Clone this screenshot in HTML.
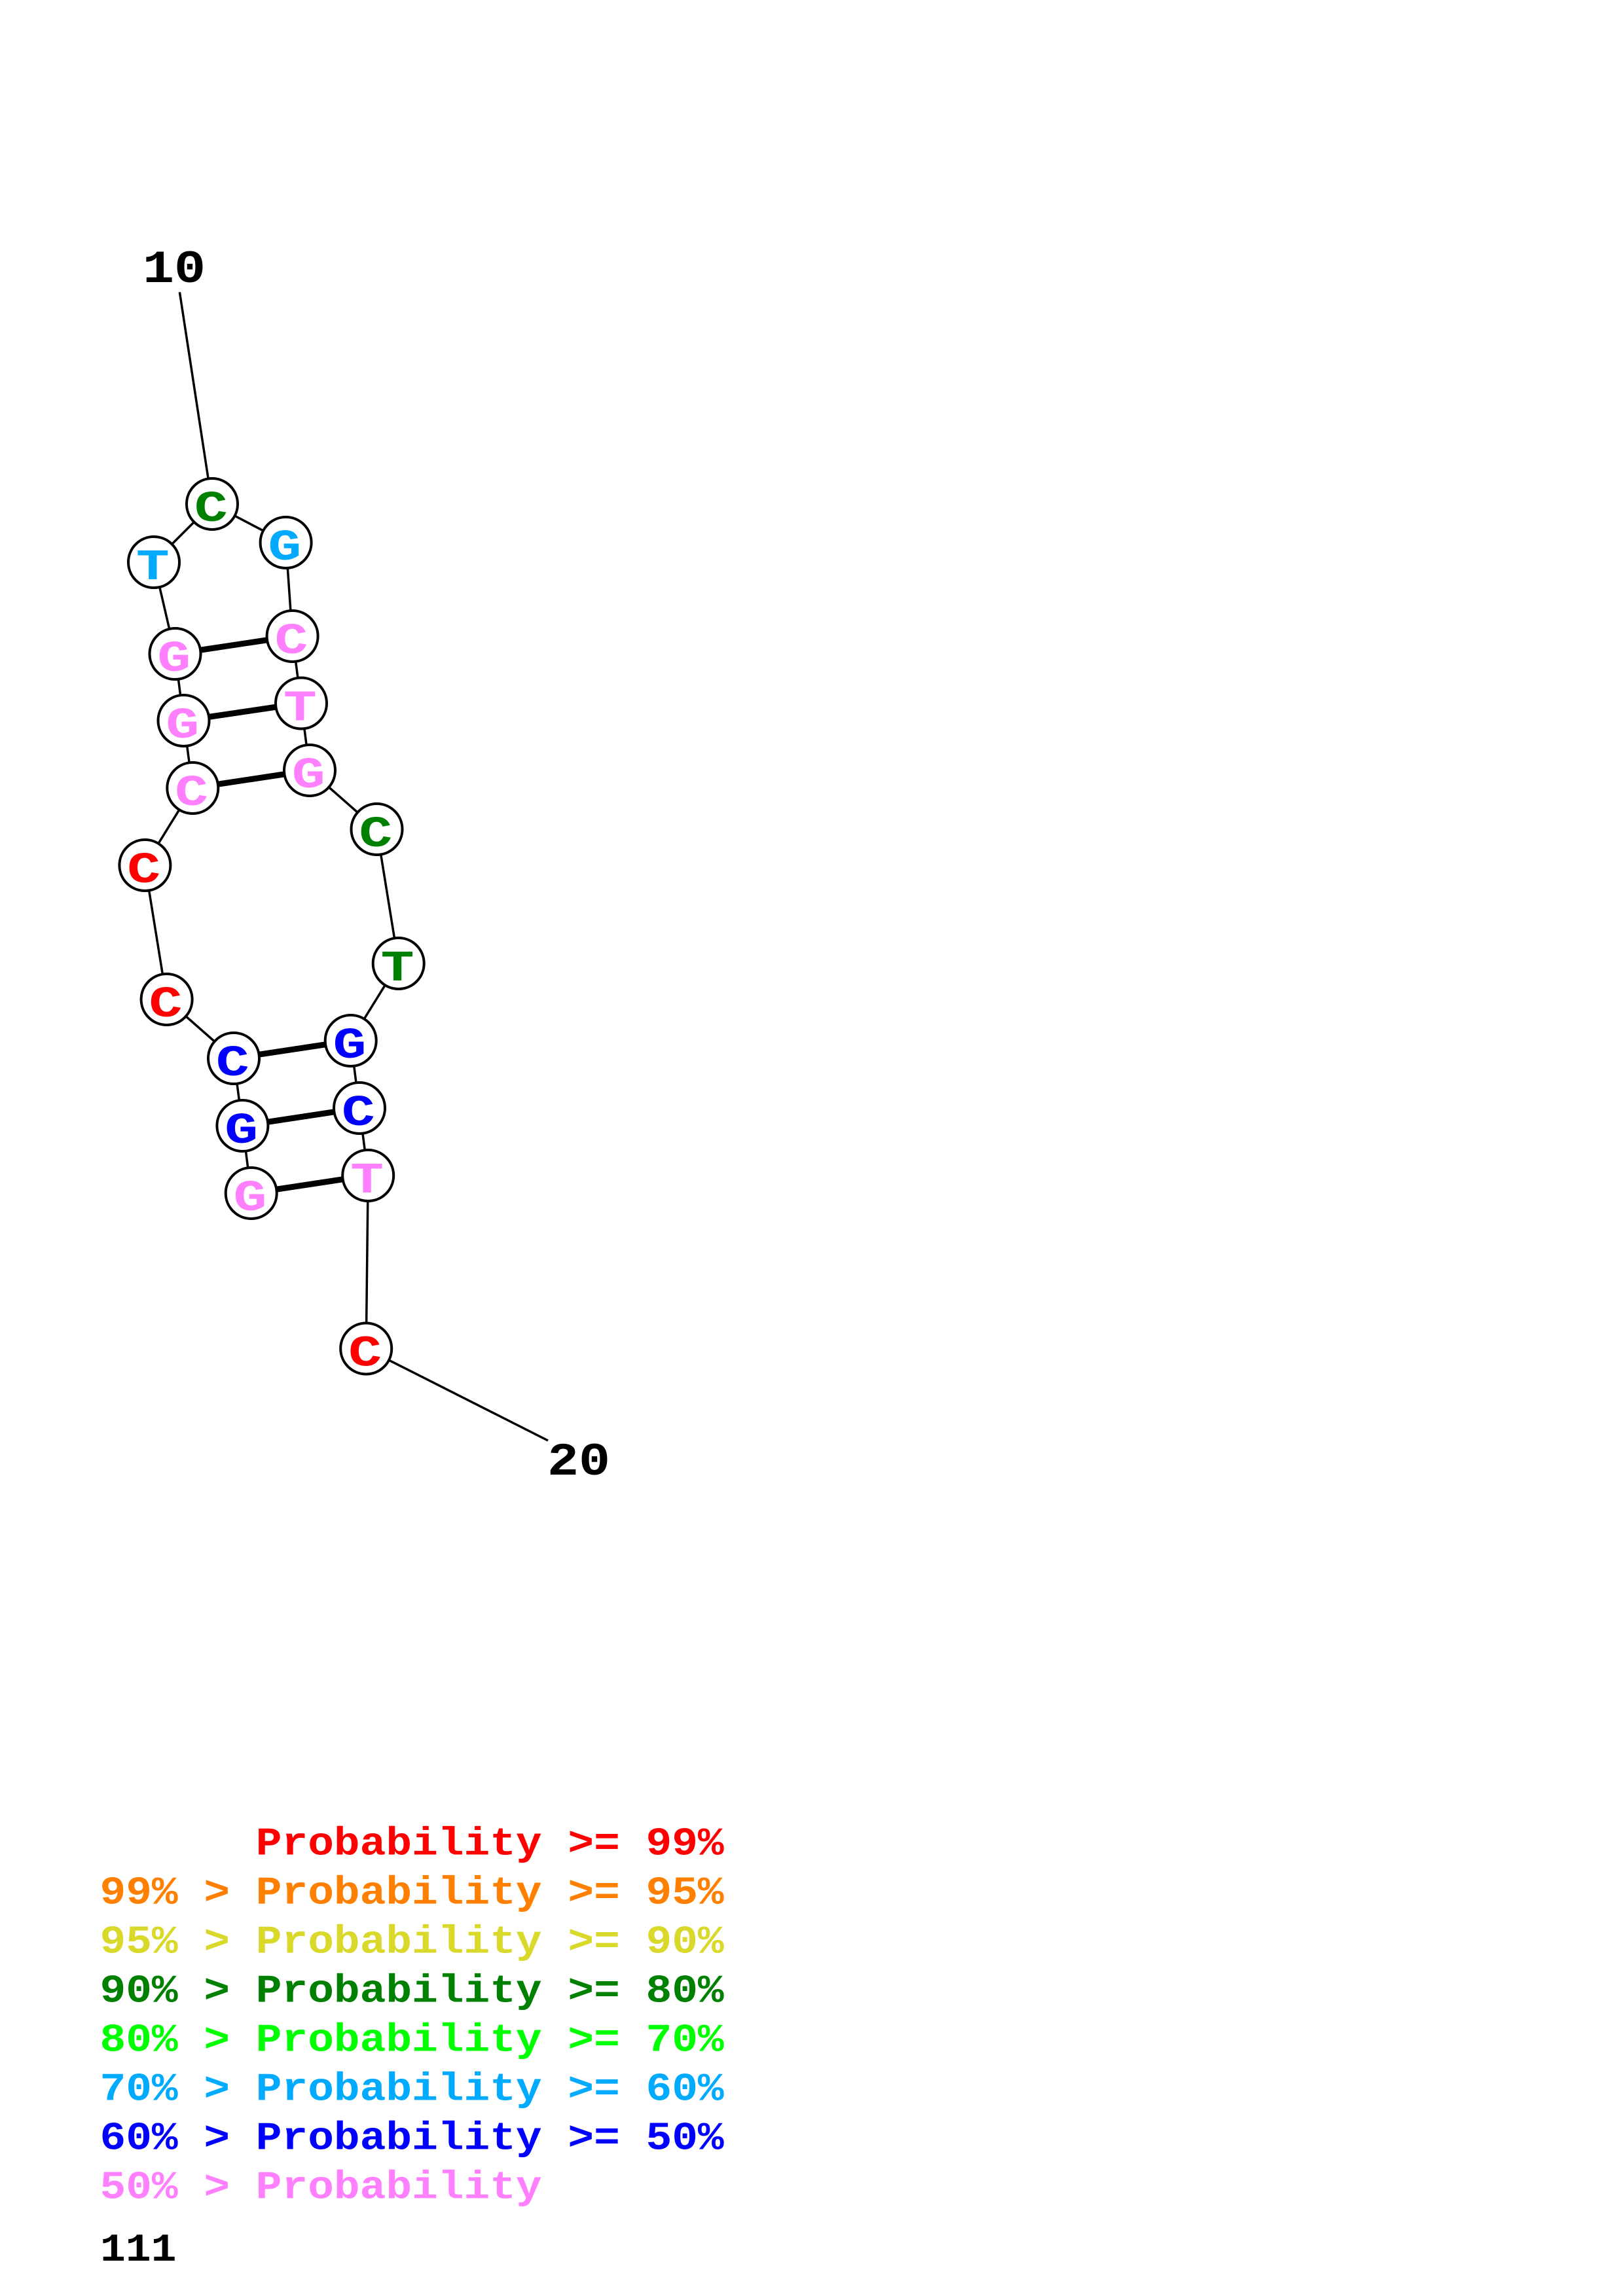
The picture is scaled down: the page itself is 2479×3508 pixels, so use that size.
<!DOCTYPE html>
<html><head><meta charset="utf-8">
<style>
html,body{margin:0;padding:0;background:#fff}
svg{display:block}
text{font-family:"Liberation Mono",monospace;font-weight:bold;white-space:pre}
.n{font-size:80px;text-anchor:middle}
.l{font-size:66px}
</style></head><body>
<svg xmlns="http://www.w3.org/2000/svg" width="2479" height="3508" viewBox="0 0 2479 3508">
<rect width="2479" height="3508" fill="#fff"/>
<g stroke="#000" stroke-width="3.5" fill="none">
<path d="M274.4 446.4L324 770L235 859L267.5 999L280.5 1101L294.3 1204L221.4 1322L254.6 1527L357 1617L370.4 1720L383.7 1823"/>
<path d="M324 770L436.6 829L446.6 972L460 1074.5L473 1177L575.5 1267L608.7 1472L535.7 1590L549 1693L562.2 1796L559.2 2060.5L837 2201"/>
</g>
<g stroke="#000" stroke-width="9">
<line x1="267.5" y1="999" x2="446.6" y2="972"/>
<line x1="280.5" y1="1101" x2="460" y2="1074.5"/>
<line x1="294.3" y1="1204" x2="473" y2="1177"/>
<line x1="357" y1="1617" x2="535.7" y2="1590"/>
<line x1="370.4" y1="1720" x2="549" y2="1693"/>
<line x1="383.7" y1="1823" x2="562.2" y2="1796"/>
</g>
<g fill="#fff" stroke="#000" stroke-width="4">
<circle cx="324" cy="770" r="39"/><circle cx="235" cy="859" r="39"/><circle cx="436.6" cy="829" r="39"/>
<circle cx="267.5" cy="999" r="39"/><circle cx="446.6" cy="972" r="39"/><circle cx="280.5" cy="1101" r="39"/>
<circle cx="460" cy="1074.5" r="39"/><circle cx="294.3" cy="1204" r="39"/><circle cx="473" cy="1177" r="39"/>
<circle cx="221.4" cy="1322" r="39"/><circle cx="575.5" cy="1267" r="39"/><circle cx="608.7" cy="1472" r="39"/>
<circle cx="254.6" cy="1527" r="39"/><circle cx="535.7" cy="1590" r="39"/><circle cx="357" cy="1617" r="39"/>
<circle cx="549" cy="1693" r="39"/><circle cx="370.4" cy="1720" r="39"/><circle cx="562.2" cy="1796" r="39"/>
<circle cx="383.7" cy="1823" r="39"/><circle cx="559.2" cy="2060.5" r="39"/>
</g>
<g transform="translate(1 -2)">
<text class="n" fill="#008000" transform="translate(321.3 798) scale(1.06 .83)">C</text>
<text class="n" fill="#00aaff" transform="translate(232.3 887) scale(1.06 .83)">T</text>
<text class="n" fill="#00aaff" transform="translate(433.9 857) scale(1.06 .83)">G</text>
<text class="n" fill="#ff80ff" transform="translate(264.8 1027) scale(1.06 .83)">G</text>
<text class="n" fill="#ff80ff" transform="translate(443.9 1000) scale(1.06 .83)">C</text>
<text class="n" fill="#ff80ff" transform="translate(277.8 1129) scale(1.06 .83)">G</text>
<text class="n" fill="#ff80ff" transform="translate(457.3 1102.5) scale(1.06 .83)">T</text>
<text class="n" fill="#ff80ff" transform="translate(291.6 1232) scale(1.06 .83)">C</text>
<text class="n" fill="#ff80ff" transform="translate(470.3 1205) scale(1.06 .83)">G</text>
<text class="n" fill="#ff0000" transform="translate(218.7 1350) scale(1.06 .83)">C</text>
<text class="n" fill="#008000" transform="translate(572.8 1295) scale(1.06 .83)">C</text>
<text class="n" fill="#008000" transform="translate(606 1500) scale(1.06 .83)">T</text>
<text class="n" fill="#ff0000" transform="translate(251.9 1555) scale(1.06 .83)">C</text>
<text class="n" fill="#0000ff" transform="translate(533 1618) scale(1.06 .83)">G</text>
<text class="n" fill="#0000ff" transform="translate(354.3 1645) scale(1.06 .83)">C</text>
<text class="n" fill="#0000ff" transform="translate(546.3 1721) scale(1.06 .83)">C</text>
<text class="n" fill="#0000ff" transform="translate(367.7 1748) scale(1.06 .83)">G</text>
<text class="n" fill="#ff80ff" transform="translate(559.5 1824) scale(1.06 .83)">T</text>
<text class="n" fill="#ff80ff" transform="translate(381 1851) scale(1.06 .83)">G</text>
<text class="n" fill="#ff0000" transform="translate(556.5 2088.5) scale(1.06 .83)">C</text>
</g>
<text class="n" fill="#000" transform="translate(266 431) scale(1 .88)">10</text>
<text class="n" fill="#000" transform="translate(884 2253) scale(1 .88)">20</text>
<g>
<text class="l" fill="#ff0000" transform="translate(152.5 2833.5) scale(1.003 .92)">      Probability &gt;= 99%</text>
<text class="l" fill="#ff8000" transform="translate(152.5 2908.5) scale(1.003 .92)">99% &gt; Probability &gt;= 95%</text>
<text class="l" fill="#d9d92b" transform="translate(152.5 2983.5) scale(1.003 .92)">95% &gt; Probability &gt;= 90%</text>
<text class="l" fill="#008000" transform="translate(152.5 3058.5) scale(1.003 .92)">90% &gt; Probability &gt;= 80%</text>
<text class="l" fill="#00ff00" transform="translate(152.5 3133.5) scale(1.003 .92)">80% &gt; Probability &gt;= 70%</text>
<text class="l" fill="#00aaff" transform="translate(152.5 3208.5) scale(1.003 .92)">70% &gt; Probability &gt;= 60%</text>
<text class="l" fill="#0000ff" transform="translate(152.5 3283.5) scale(1.003 .92)">60% &gt; Probability &gt;= 50%</text>
<text class="l" fill="#ff80ff" transform="translate(152.5 3358.5) scale(1.003 .92)">50% &gt; Probability</text>
<text class="l" fill="#000" transform="translate(153 3454) scale(.98 .92)">111</text>
</g>
</svg>
</body></html>
